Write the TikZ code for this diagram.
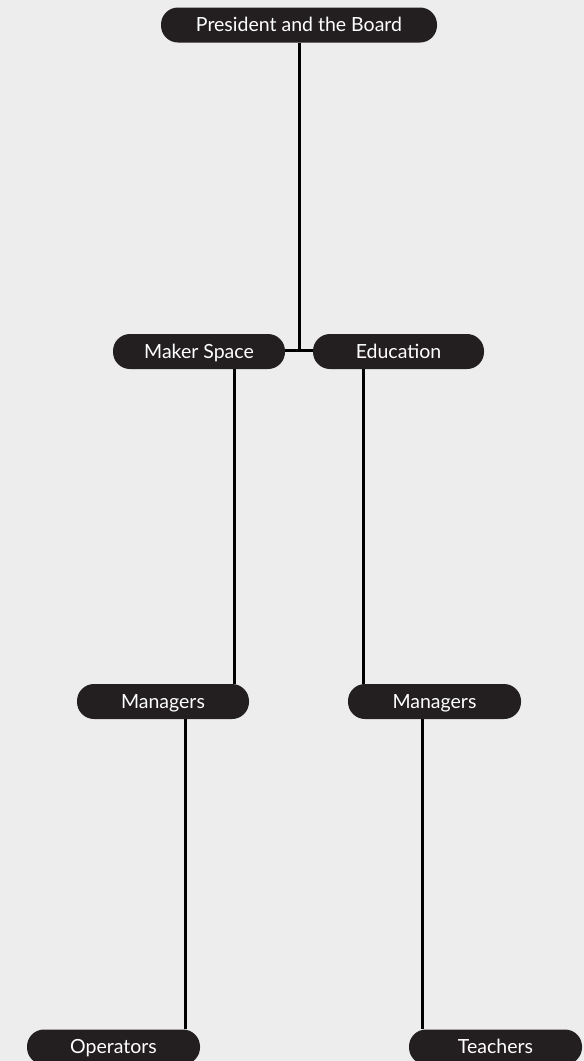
\documentclass[tikz,border=0pt]{standalone}
\usepackage{fontspec}
\setmainfont{Lato}
\definecolor{bgc}{HTML}{EDEDED}
\definecolor{boxc}{HTML}{231F20}
\tikzset{
  pill/.style={rectangle, rounded corners=17pt, fill=boxc, text=white,
    minimum height=35pt, inner sep=0pt, text height=13.8pt, text depth=0pt,
    font=\fontsize{19.5}{22}\selectfont},
  link/.style={draw=black, line width=3pt}
}
\begin{document}
\begin{tikzpicture}[x=1pt,y=-1pt]
\fill[bgc] (0,0) rectangle (584,1061);
\useasboundingbox (0,0) rectangle (584,1061);
\clip (0,0) rectangle (584,1061);
\node[pill, minimum width=276pt] (pres) at (299,25) {President and the Board};
\node[pill, minimum width=172pt] (ms) at (199,351.5) {Maker Space};
\node[pill, minimum width=171pt] (edu) at (398.5,351.5) {Education};
\node[pill, minimum width=172pt] (mL) at (163,701.5) {Managers};
\node[pill, minimum width=173pt] (mR) at (434.5,701.5) {Managers};
\node[pill, minimum width=173pt] (op) at (113.5,1047) {Operators};
\node[pill, minimum width=173pt] (te) at (495.5,1047) {Teachers};
\coordinate (j) at (299,350);
\draw[link] (ms.east |- j) -- (edu.west |- j);
\draw[link] (pres.south) -- (j);
\draw[link] ([xshift=35pt]ms.south) -- ([xshift=35pt]ms.south |- mL.north);
\draw[link] ([xshift=-35.5pt]edu.south) -- ([xshift=-35.5pt]edu.south |- mR.north);
\draw[link] ([xshift=22pt]mL.south) -- ([xshift=22pt]mL.south |- op.north);
\draw[link] ([xshift=-12.5pt]mR.south) -- ([xshift=-12.5pt]mR.south |- te.north);
\end{tikzpicture}
\end{document}
